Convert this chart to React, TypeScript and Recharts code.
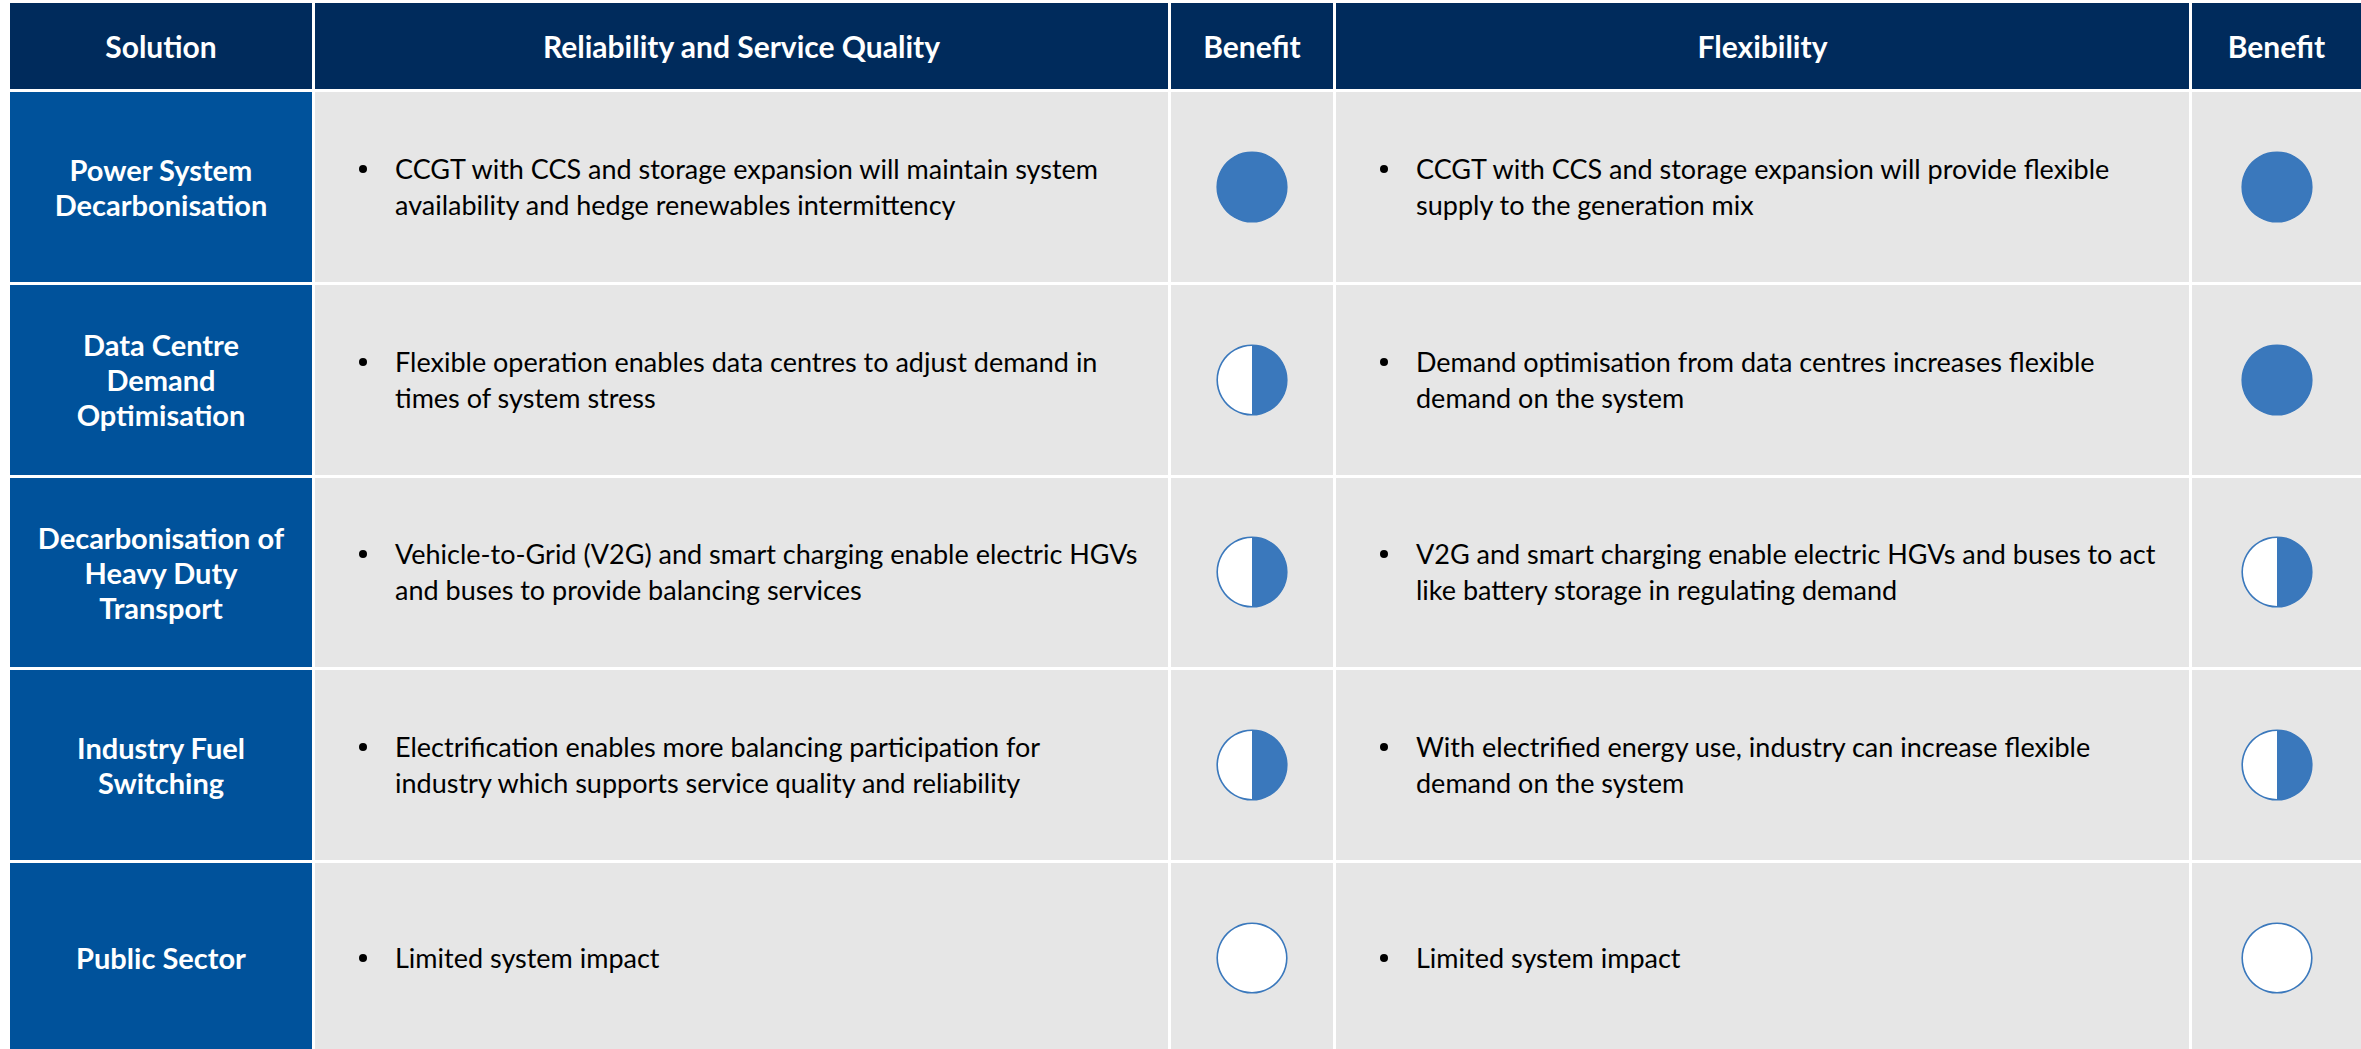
import React from "react";
import { PieChart, Pie, Cell } from "recharts";

// ---------- data ----------
const headers = ["Solution", "Reliability and Service Quality", "Benefit", "Flexibility", "Benefit"];

const solutions: string[][] = [
  ["Power System", "Decarbonisation"],
  ["Data Centre", "Demand", "Optimisation"],
  ["Decarbonisation of", "Heavy Duty", "Transport"],
  ["Industry Fuel", "Switching"],
  ["Public Sector"],
];

const reliabilityText: string[][] = [
  ["CCGT with CCS and storage expansion will maintain system", "availability and hedge renewables intermittency"],
  ["Flexible operation enables data centres to adjust demand in", "times of system stress"],
  ["Vehicle-to-Grid (V2G) and smart charging enable electric HGVs", "and buses to provide balancing services"],
  ["Electrification enables more balancing participation for", "industry which supports service quality and reliability"],
  ["Limited system impact"],
];
const reliabilityBenefit = [1, 0.5, 0.5, 0.5, 0];

const flexibilityText: string[][] = [
  ["CCGT with CCS and storage expansion will provide flexible", "supply to the generation mix"],
  ["Demand optimisation from data centres increases flexible", "demand on the system"],
  ["V2G and smart charging enable electric HGVs and buses to act", "like battery storage in regulating demand"],
  ["With electrified energy use, industry can increase flexible", "demand on the system"],
  ["Limited system impact"],
];
const flexibilityBenefit = [1, 1, 0.5, 0.5, 0];

// ---------- layout / style ----------
const W = 2361;
const H = 1049;
const colLeft = [10, 315, 1171, 1336, 2192];
const colRight = [312, 1168, 1333, 2189, 2361];
const headerTop = 3;
const headerH = 86;
const rowTop0 = 92;
const rowPitch = 192.75;
const rowH = 189.75;

const NAVY = "#002B5C";
const BLUE = "#00529B";
const GREY = "#E6E6E6";
const BALL = "#3A78BC";
const FONT = "Lato, 'Open Sans', sans-serif";

const HarveyBall: React.FC<{ value: number }> = ({ value }) => {
  const data = [
    { name: "filled", v: value, fill: BALL },
    { name: "empty", v: 1 - value, fill: "#FFFFFF" },
  ].filter((d) => d.v > 0);
  const ring = [{ name: "ring", v: 1 }];
  return (
    <PieChart width={76} height={76}>
      <Pie
        data={data}
        dataKey="v"
        cx="50%"
        cy="50%"
        innerRadius={0}
        outerRadius={35}
        startAngle={90}
        endAngle={-270}
        stroke="none"
        isAnimationActive={false}
      >
        {data.map((d) => (
          <Cell key={d.name} fill={d.fill} stroke="none" />
        ))}
      </Pie>
      <Pie
        data={ring}
        dataKey="v"
        cx="50%"
        cy="50%"
        innerRadius={34}
        outerRadius={35.6}
        startAngle={90}
        endAngle={-270}
        stroke="none"
        fill={BALL}
        isAnimationActive={false}
      />
    </PieChart>
  );
};

const cellBox = (c: number, top: number, h: number, bg: string): React.CSSProperties => ({
  position: "absolute",
  left: colLeft[c],
  top,
  width: colRight[c] - colLeft[c],
  height: h,
  background: bg,
  display: "flex",
  alignItems: "center",
  justifyContent: "center",
  overflow: "hidden",
});

const BodyText: React.FC<{ lines: string[] }> = ({ lines }) => (
  <div
    style={{
      position: "absolute",
      left: 0,
      right: 0,
      top: 0,
      bottom: 0,
      display: "flex",
      alignItems: "center",
    }}
  >
    <div style={{ position: "relative", marginLeft: 80, fontSize: 27, lineHeight: "36px", color: "#000" }}>
      <span
        style={{
          position: "absolute",
          left: -36,
          top: 14,
          width: 8,
          height: 8,
          borderRadius: "50%",
          background: "#000",
        }}
      />
      {lines.map((l, i) => (
        <div key={i} style={{ whiteSpace: "nowrap" }}>
          {l}
        </div>
      ))}
    </div>
  </div>
);

export default function App() {
  return (
    <div
      style={{
        position: "absolute",
        left: 0,
        top: 0,
        width: W,
        height: H,
        background: "#FFFFFF",
        overflow: "hidden",
        fontFamily: FONT,
      }}
    >
      {headers.map((h, c) => (
        <div key={"h" + c} style={cellBox(c, headerTop, headerH, NAVY)}>
          <span style={{ color: "#FFFFFF", fontWeight: 700, fontSize: 30 }}>{h}</span>
        </div>
      ))}
      {solutions.map((sol, r) => {
        const top = rowTop0 + r * rowPitch;
        return (
          <React.Fragment key={"r" + r}>
            <div style={cellBox(0, top, rowH, BLUE)}>
              <div style={{ color: "#FFFFFF", fontWeight: 700, fontSize: 29, lineHeight: "35px", textAlign: "center" }}>
                {sol.map((l, i) => (
                  <div key={i}>{l}</div>
                ))}
              </div>
            </div>
            <div style={cellBox(1, top, rowH, GREY)}>
              <BodyText lines={reliabilityText[r]} />
            </div>
            <div style={cellBox(2, top, rowH, GREY)}>
              <HarveyBall value={reliabilityBenefit[r]} />
            </div>
            <div style={cellBox(3, top, rowH, GREY)}>
              <BodyText lines={flexibilityText[r]} />
            </div>
            <div style={cellBox(4, top, rowH, GREY)}>
              <HarveyBall value={flexibilityBenefit[r]} />
            </div>
          </React.Fragment>
        );
      })}
    </div>
  );
}
